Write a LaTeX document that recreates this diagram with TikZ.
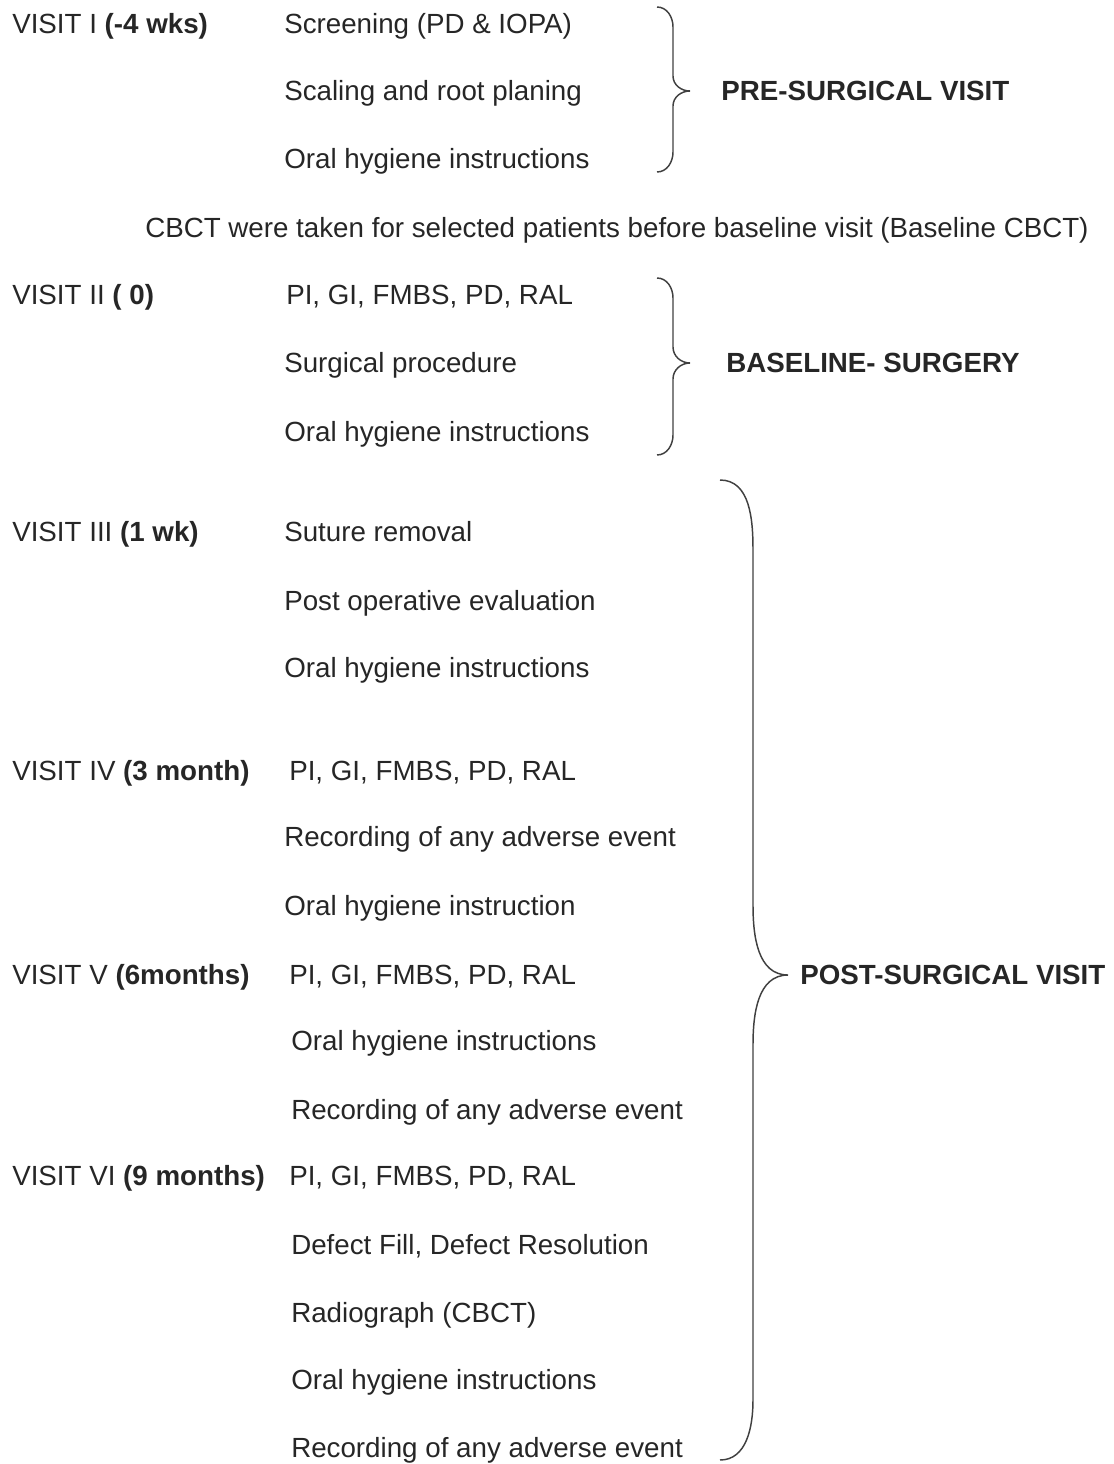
\documentclass[tikz,border=0pt]{standalone}
\usepackage{fontspec}
\setmainfont{Liberation Sans}
\usepackage{tikz}

\begin{document}
\begin{tikzpicture}[x=0.75pt,y=0.75pt]
			\tikzstyle{txt} = [anchor=base west, inner sep=0, text=black!85, font=\fontsize{20.8}{24}\selectfont]
			\tikzstyle{lbl} = [txt, font=\fontsize{20.8}{24}\selectfont\bfseries]
			\tikzstyle{brc} = [draw=black!75, line width=1.1pt]
			\useasboundingbox (0,0) rectangle (1114,-1464);

			% visits
			\node [txt] (v1) at (12,-33) {VISIT I \textbf{(-4 wks)}};
			\node [txt] (v2) at (12,-304) {VISIT II \textbf{( 0)}};
			\node [txt] (v3) at (12,-541) {VISIT III \textbf{(1 wk)}};
			\node [txt] (v4) at (12,-780) {VISIT IV \textbf{(3 month)}};
			\node [txt] (v5) at (12,-984) {VISIT V \textbf{(6months)}};
			\node [txt] (v6) at (12,-1185) {VISIT VI \textbf{(9 months)}};

			% pre-surgical
			\node [txt] (a1) at (284,-33) {Screening (PD \& IOPA)};
			\node [txt] (a2) at (284,-100) {Scaling and root planing};
			\node [txt] (a3) at (284,-168) {Oral hygiene instructions};
			\node [txt] (cbct) at (145,-237) {CBCT were taken for selected patients before baseline visit (Baseline CBCT)};

			% baseline
			\node [txt] (b1) at (286,-304) {PI, GI, FMBS, PD, RAL};
			\node [txt] (b2) at (284,-372) {Surgical procedure};
			\node [txt] (b3) at (284,-441) {Oral hygiene instructions};

			% post-surgical
			\node [txt] (c1) at (284,-541) {Suture removal};
			\node [txt] (c2) at (284,-610) {Post operative evaluation};
			\node [txt] (c3) at (284,-677) {Oral hygiene instructions};
			\node [txt] (d1) at (289,-780) {PI, GI, FMBS, PD, RAL};
			\node [txt] (d2) at (284,-846) {Recording of any adverse event};
			\node [txt] (d3) at (284,-915) {Oral hygiene instruction};
			\node [txt] (e1) at (289,-984) {PI, GI, FMBS, PD, RAL};
			\node [txt] (e2) at (291,-1050) {Oral hygiene instructions};
			\node [txt] (e3) at (291,-1119) {Recording of any adverse event};
			\node [txt] (f1) at (289,-1185) {PI, GI, FMBS, PD, RAL};
			\node [txt] (f2) at (291,-1254) {Defect Fill, Defect Resolution};
			\node [txt] (f3) at (291,-1322) {Radiograph (CBCT)};
			\node [txt] (f4) at (291,-1389) {Oral hygiene instructions};
			\node [txt] (f5) at (291,-1457) {Recording of any adverse event};

			% braces
			\draw [brc] (657,-7) to[out=0,in=90] (673,-27) -- (673,-76) to[out=-90,in=180] (690,-91)
				to[out=180,in=90] (673,-106) -- (673,-152) to[out=-90,in=0] (657,-172);
			\draw [brc] (657,-278) to[out=0,in=90] (673,-298) -- (673,-347) to[out=-90,in=180] (690,-363)
				to[out=180,in=90] (673,-379) -- (673,-435) to[out=-90,in=0] (657,-455);
			\draw [brc] (720,-480) to[out=0,in=90] (753,-550) -- (753,-905) to[out=-90,in=180] (788,-975)
				to[out=180,in=90] (753,-1045) -- (753,-1400) to[out=-90,in=0] (720,-1460);

			\node [lbl] (pre) at (721,-100) {PRE-SURGICAL VISIT};
			\node [lbl] (base) at (726,-372) {BASELINE- SURGERY};
			\node [lbl] (post) at (800,-984) {POST-SURGICAL VISIT};
		\end{tikzpicture}
\end{document}
